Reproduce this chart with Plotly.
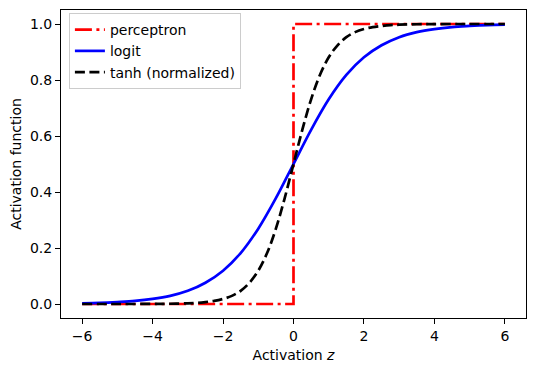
import plotly.graph_objects as go

# Perceptron (step function)
perc_z = [-6, 0, 0, 6]
perc_y = [0, 0, 1, 1]

# Logistic (logit) curve
logit_z = [-6, -5.5, -5, -4.5, -4, -3.5, -3, -2.5, -2, -1.5, -1, -0.5, 0,
           0.5, 1, 1.5, 2, 2.5, 3, 3.5, 4, 4.5, 5, 5.5, 6]
logit_y = [0.0025, 0.004, 0.007, 0.011, 0.018, 0.029, 0.047, 0.076, 0.119, 0.182, 0.269, 0.378, 0.5,
           0.622, 0.731, 0.818, 0.881, 0.924, 0.953, 0.971, 0.982, 0.989, 0.993, 0.996, 0.9975]

# tanh (normalized) curve
tanh_z = [-6, -5, -4, -3.5, -3, -2.75, -2.5, -2.25, -2, -1.75, -1.5, -1.25, -1, -0.75, -0.5, -0.25, 0,
          0.25, 0.5, 0.75, 1, 1.25, 1.5, 1.75, 2, 2.25, 2.5, 2.75, 3, 3.5, 4, 5, 6]
tanh_y = [0.0, 0.0, 0.0003, 0.0009, 0.0025, 0.004, 0.007, 0.011, 0.018, 0.029, 0.047, 0.076, 0.119, 0.182, 0.269, 0.378, 0.5,
          0.622, 0.731, 0.818, 0.881, 0.924, 0.953, 0.971, 0.982, 0.989, 0.993, 0.996, 0.9975, 0.9991, 0.9997, 1.0, 1.0]

x_ticks = [-6, -4, -2, 0, 2, 4, 6]
x_tick_labels = ["\u22126", "\u22124", "\u22122", "0", "2", "4", "6"]
y_ticks = [0.0, 0.2, 0.4, 0.6, 0.8, 1.0]
y_tick_labels = ["0.0", "0.2", "0.4", "0.6", "0.8", "1.0"]

FS = 14

fig = go.Figure()
fig.add_trace(go.Scatter(x=perc_z, y=perc_y, mode="lines", name="perceptron",
                         line=dict(color="red", width=2.7, dash="17px,4.5px,3px,4.5px")))
fig.add_trace(go.Scatter(x=logit_z, y=logit_y, mode="lines", name="logit",
                         line=dict(color="blue", width=2.7, shape="spline")))
fig.add_trace(go.Scatter(x=tanh_z, y=tanh_y, mode="lines", name="tanh (normalized)",
                         line=dict(color="black", width=2.7, dash="10px,4.5px", shape="spline")))

axis_common = dict(showline=True, linecolor="black", linewidth=1, mirror=True,
                   ticks="outside", ticklen=5, tickcolor="black", tickwidth=1,
                   showgrid=False, zeroline=False, automargin=False,
                   tickfont=dict(family="DejaVu Sans", size=FS, color="black"))

fig.update_layout(
    width=528, height=364,
    margin=dict(l=53, r=10, t=2, b=54),
    paper_bgcolor="white", plot_bgcolor="white",
    font=dict(family="DejaVu Sans", size=FS, color="black"),
    xaxis=dict(range=[-6.6, 6.6], tickvals=x_ticks, ticktext=x_tick_labels,
               title=dict(text="Activation <i>z</i>", font=dict(size=FS), standoff=7),
               **axis_common),
    yaxis=dict(range=[-0.05, 1.05], tickvals=y_ticks, ticktext=y_tick_labels,
               title=dict(text="Activation function", font=dict(size=FS), standoff=6),
               **axis_common),
    legend=dict(x=0.017, y=0.99, xanchor="left", yanchor="top",
                bgcolor="rgba(255,255,255,0.8)", bordercolor="#cccccc", borderwidth=1,
                font=dict(size=FS), itemwidth=30),
    showlegend=True,
)

fig.write_html("out.html")
